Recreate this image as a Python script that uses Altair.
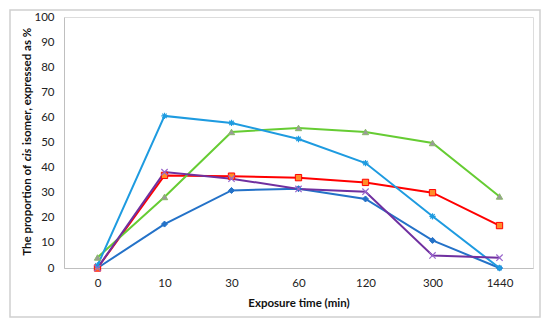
import altair as alt
import pandas as pd

times = ["0", "10", "30", "60", "120", "300", "1440"]

series_names = ["S1", "S2", "S3", "S4", "S5"]
s1 = [0, 17.5, 30.9, 31.6, 27.5, 11.0, 0]      # dark blue, diamonds
s2 = [0, 36.9, 36.6, 36.0, 34.1, 30.0, 16.9]   # red, orange squares
s3 = [4.2, 28.3, 54.2, 55.8, 54.2, 49.8, 28.5] # green, grey triangles
s4 = [1.0, 60.6, 57.8, 51.4, 41.8, 20.6, 0]    # light blue, asterisks
s5 = [0, 38.2, 35.6, 31.5, 30.4, 5.0, 4.1]     # purple, crosses

values = [s1, s2, s3, s4, s5]

line_colors = ["#2472C8", "#FF0000", "#66CC33", "#1E9BE0", "#7030A0"]
pt_fill = ["#2472C8", "#FF8C29", "#9A9A9A", "#1E9BE0", "#9966CC"]
pt_stroke = ["#2472C8", "#FF0000", "#8AB86A", "#1E9BE0", "#9966CC"]
shapes = [
    "diamond",
    "square",
    "triangle-up",
    "M-1,0L1,0M0,-1L0,1M-0.7,-0.7L0.7,0.7M-0.7,0.7L0.7,-0.7",
    "M-1,-1L1,1M-1,1L1,-1",
]
filled = [True, True, True, False, False]
sizes = [36, 40, 40, 40, 40]

rows = []
for name, vals in zip(series_names, values):
    for t, v in zip(times, vals):
        rows.append({"series": name, "time": t, "value": v})
df = pd.DataFrame(rows)

W, H = 469, 251

xenc = alt.X(
    "time:N",
    sort=times,
    scale=alt.Scale(type="point", padding=0.5),
    axis=alt.Axis(
        title="Exposure time (min)",
        labelAngle=0,
        ticks=False,
        labelPadding=9,
        titlePadding=9,
        domainColor="#BFBFBF",
        labelFont="Lato",
        labelFontSize=11.5,
        labelColor="#222222",
        titleFont="Lato",
        titleFontSize=11.5,
        titleFontWeight="bold",
        titleColor="#111111",
        grid=False,
    ),
)
yenc = alt.Y(
    "value:Q",
    scale=alt.Scale(domain=[0, 100], nice=False),
    axis=alt.Axis(
        title="",
        values=list(range(0, 101, 10)),
        ticks=False,
        labelPadding=10,
        domainColor="#BFBFBF",
        labelFont="Lato",
        labelFontSize=11.5,
        labelColor="#222222",
        grid=False,
    ),
)

layers = []
for i, name in enumerate(series_names):
    d = df[df["series"] == name]
    base = alt.Chart(d).encode(x=xenc, y=yenc)
    layers.append(base.mark_line(color=line_colors[i], strokeWidth=2))
for i, name in enumerate(series_names):
    d = df[df["series"] == name]
    base = alt.Chart(d).encode(x=xenc, y=yenc)
    if filled[i]:
        pm = base.mark_point(
            shape=shapes[i], filled=True, fill=pt_fill[i], stroke=pt_stroke[i],
            strokeWidth=1, size=sizes[i], opacity=1,
        )
    else:
        pm = base.mark_point(
            shape=shapes[i], filled=False, stroke=pt_stroke[i],
            strokeWidth=1.2, size=sizes[i], opacity=1,
        )
    layers.append(pm)

one = pd.DataFrame({"a": [0]})
border = alt.Chart(one).mark_rect(fill="transparent", stroke="#D0D0D0", strokeWidth=1.5).encode(
    x=alt.value(-54), x2=alt.value(476), y=alt.value(-7), y2=alt.value(300)
)

title_font = dict(font="Lato", fontSize=11.5, fontWeight="bold", color="#111111", angle=270, baseline="middle")
t1 = alt.Chart(one).mark_text(text="The proportion of", align="right", **title_font).encode(
    x=alt.value(-36), y=alt.value(148)
)
t2 = alt.Chart(one).mark_text(text="cis", align="center", fontStyle="italic", **title_font).encode(
    x=alt.value(-36), y=alt.value(138)
)
t3 = alt.Chart(one).mark_text(text="isomer, expressed as %", align="left", **title_font).encode(
    x=alt.value(-36), y=alt.value(128)
)

chart = alt.layer(border, *layers, t1, t2, t3).properties(
    width=W, height=H,
    autosize=alt.AutoSizeParams(type="none"),
    padding={"left": 56, "top": 9, "right": 9, "bottom": 51},
).configure_view(strokeWidth=0).configure(background="white")

chart.save("out.html", embed_options={"renderer": "svg", "actions": False})
